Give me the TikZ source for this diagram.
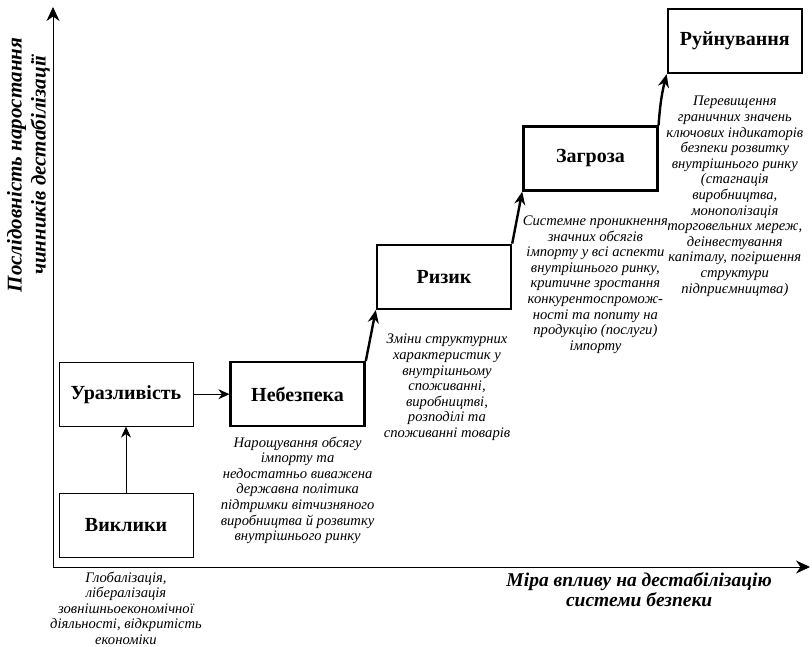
\documentclass[tikz,border=0pt]{standalone}
\usepackage{fontspec}
\setmainfont{Liberation Serif}
\usetikzlibrary{arrows.meta, positioning, calc}
\tikzset{
    stage/.style={rectangle, draw=black, thick, align=center, minimum width=134pt, minimum height=64pt, font=\fontsize{20}{24}\selectfont\bfseries},
    riskstage/.style={stage, line width=2.4pt},
    note/.style={align=center, inner sep=0pt, font=\fontsize{14.6}{15.6}\selectfont\itshape},
    axislabel/.style={align=center, inner sep=0pt, font=\bfseries\itshape},
    arrow/.style={-{Stealth[length=11pt, width=10pt]}, thick},
    steparrow/.style={-{Stealth[length=13pt, width=11pt]}, line width=2.4pt},
    axisline/.style={-{Stealth[length=14pt, width=13pt]}, thick}
}
\begin{document}
\begin{tikzpicture}[x=1pt, y=-1pt]

    \useasboundingbox (0,0) rectangle (812,646);

    % Axes
    \coordinate (origin) at (53,567);
    \coordinate (xtip) at (810,567);
    \coordinate (ytip) at (53,7);
    \draw [axisline] (origin) -- (xtip);
    \draw [axisline] (origin) -- (ytip);

    \node (xlabel) [axislabel, font=\fontsize{19.5}{20.5}\selectfont\bfseries\itshape, below left=5pt and 38pt of xtip] {Міра впливу на дестабілізацію\\системи безпеки};
    \node (ylabel) [axislabel, font=\fontsize{21}{24}\selectfont\bfseries\itshape, rotate=90, anchor=south] at (50,165) {Послідовність наростання\\чинників дестабілізації};

    % Stages
    \node (vyklyky) [stage] at (126,525) {Виклики};
    \node (urazlyvist) [stage, above=66pt of vyklyky] {Уразливість};
    \node (nebezpeka) [riskstage, right=36pt of urazlyvist] {Небезпека};
    \node (ryzyk) [riskstage, above right=51pt and 10pt of nebezpeka] {Ризик};
    \node (zagroza) [riskstage, above right=52pt and 10pt of ryzyk] {Загроза};
    \node (ruinuvannya) [riskstage, above right=51pt and 8pt of zagroza] {Руйнування};

    % Notes
    \node (vyklykyNote) [note, below=14pt of vyklyky] {Глобалізація,\\лібералізація\\зовнішньоекономічної\\діяльності, відкритість\\економіки};
    \node (nebezpekaNote) [note, below=9pt of nebezpeka] {Нарощування обсягу\\імпорту та\\недостатньо виважена\\державна політика\\підтримки вітчизняного\\виробництва й розвитку\\внутрішнього ринку};
    \node (ryzykNote) [note, below=24pt of ryzyk, xshift=3pt] {Зміни структурних\\характеристик у\\внутрішньому\\споживанні,\\виробництві,\\розподілі та\\споживанні товарів};
    \node (zagrozaNote) [note, below=24pt of zagroza, xshift=5pt] {Системне проникнення\\значних обсягів\\імпорту у всі аспекти\\внутрішнього ринку,\\критичне зростання\\конкурентоспромож-\\ності та попиту на\\продукцію (послуги)\\імпорту};
    \node (ruinuvannyaNote) [note, below=22pt of ruinuvannya] {Перевищення\\граничних значень\\ключових індикаторів\\безпеки розвитку\\внутрішнього ринку\\(стагнація\\виробництва,\\монополізація\\торговельних мереж,\\деінвестування\\капіталу, погіршення\\структури\\підприємництва)};

    % Connectors
    \draw [arrow] (vyklyky) -- (urazlyvist);
    \draw [arrow] (urazlyvist) -- (nebezpeka);
    \draw [steparrow] (nebezpeka.north east) -- (ryzyk.south west);
    \draw [steparrow] (ryzyk.north east) -- (zagroza.south west);
    \draw [steparrow] (zagroza.north east) to[bend left=5] (ruinuvannya.south west);

\end{tikzpicture}
\end{document}
